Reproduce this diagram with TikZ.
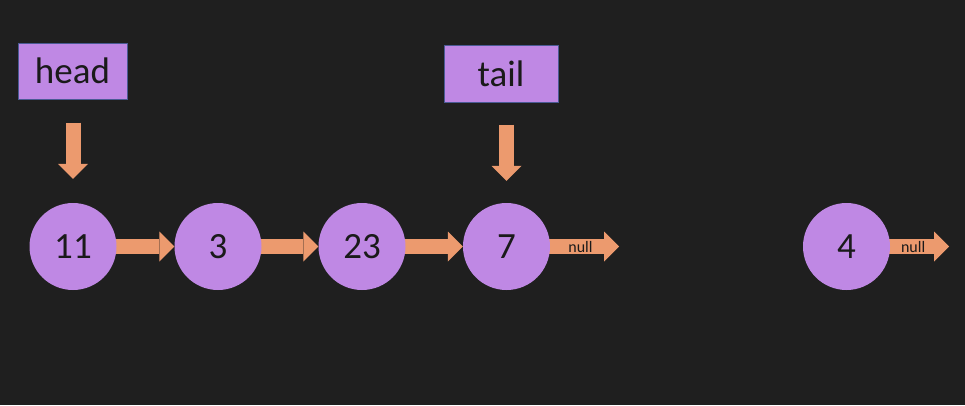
\documentclass[tikz,border=0pt]{standalone}
\usepackage{fontspec}
\setmainfont{Carlito}
\usetikzlibrary{arrows.meta,calc}
\definecolor{bgc}{HTML}{1F1F1F}
\definecolor{nodec}{HTML}{BF88E4}
\definecolor{arrc}{HTML}{EC9A6E}
\definecolor{boxline}{HTML}{4A5A94}
\definecolor{txt}{HTML}{1A1A1A}
\pgfdeclarelayer{bg}
\pgfdeclarelayer{arr}
\pgfsetlayers{bg,arr,main}
\begin{document}
\begin{tikzpicture}[x=1pt,y=-1pt,
  listnode/.style={circle,fill=nodec,minimum size=87pt,inner sep=0pt,
    font=\fontsize{37}{40}\selectfont,text=txt},
  ptrbox/.style={rectangle,fill=nodec,draw=boxline,line width=1pt,inner sep=0pt,
    font=\fontsize{37}{40}\selectfont,text=txt},
  blockarrow/.style={draw=arrc,line width=15pt,
    -{Triangle[width=30pt,length=15pt,line width=0pt]}},
  vblock/.style={draw=arrc,line width=15pt,
    -{Triangle[width=30pt,length=15pt,line width=0pt]}},
  nulltext/.style={font=\fontsize{16}{18}\selectfont,text=txt,inner sep=0pt}]
\begin{pgfonlayer}{bg}
\fill[bgc] (0,0) rectangle (965,405);
\end{pgfonlayer}
\useasboundingbox (0,0) rectangle (965,405);

\node[ptrbox,minimum width=109pt,minimum height=56pt] (head) at (72.5,71) {head};
\node[ptrbox,minimum width=114pt,minimum height=57pt] (tail) at (501,73.5) {tail};
\node[listnode] (n11) at (73,246.5) {11};
\node[listnode] (n3) at (218,246.5) {3};
\node[listnode] (n23) at (362,246.5) {23};
\node[listnode] (n7) at (506.5,246.5) {7};
\node[listnode] (n4) at (846.5,246.5) {4};
\coordinate (null7) at (619,246.5);
\coordinate (null4) at (949,246.5);

\begin{pgfonlayer}{arr}
\draw[blockarrow,shorten <=-3pt] (n11) -- (n3);
\draw[blockarrow,shorten <=-3pt] (n3) -- (n23);
\draw[blockarrow,shorten <=-3pt] (n23) -- (n7);
\draw[blockarrow,shorten <=-3pt] (n7) -- (null7) node[nulltext,pos=0.44] {null};
\draw[blockarrow,shorten <=-3pt] (n4) -- (null4) node[nulltext,pos=0.39] {null};
\draw[vblock,shorten <=23pt,shorten >=24pt] (head.south -| n11) -- (n11.north);
\draw[vblock,shorten <=22pt,shorten >=22pt] (tail.south -| n7) -- (n7.north);
\end{pgfonlayer}
\end{tikzpicture}
\end{document}
